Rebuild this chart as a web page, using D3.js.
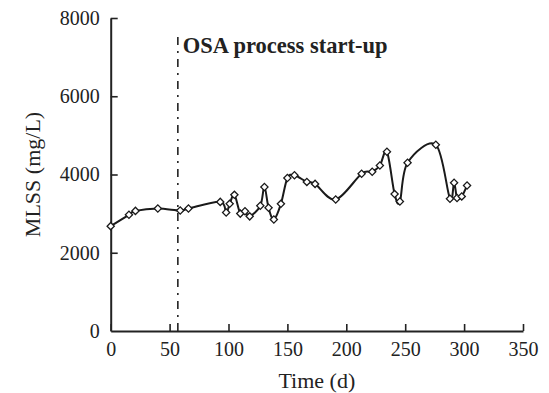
<!DOCTYPE html>
<html>
<head>
<meta charset="utf-8">
<script src="https://cdn.jsdelivr.net/npm/d3@7"></script>
<style>
  html, body { margin: 0; padding: 0; background: #fff; }
  svg { display: block; }
  text { font-family: "Liberation Serif", "Times New Roman", serif; fill: #222; }
</style>
</head>
<body>
<svg id="chart" width="549" height="393"></svg>
<script>
// Data
const days = [0, 15.5, 21, 40, 59, 66, 93, 98, 101, 105, 110, 114, 118, 127, 130.5, 134, 138.5, 144.5, 150, 156, 166.5, 173.5, 191, 213, 222, 228.5, 234.5, 241, 245.5, 252, 276, 288, 291.5, 294, 298, 302.5];
const mlss = [2680, 2970, 3070, 3130, 3080, 3130, 3300, 3030, 3250, 3480, 3000, 3060, 2930, 3200, 3680, 3150, 2850, 3250, 3910, 3980, 3810, 3760, 3360, 4020, 4070, 4230, 4580, 3500, 3310, 4300, 4760, 3380, 3790, 3400, 3440, 3720];
const xTicks = [0, 50, 100, 150, 200, 250, 300, 350];
const yTicks = [0, 2000, 4000, 6000, 8000];
const startupDay = [57];
const startupLabel = "OSA process start-up";
const xTitle = "Time (d)";
const yTitle = "MLSS (mg/L)";

const svg = d3.select("#chart");
const margin = { left: 110.7, right: 26, top: 18, bottom: 62 };
const W = 549, H = 393;

const x = d3.scaleLinear().domain([0, 350]).range([margin.left, W - margin.right]);
const y = d3.scaleLinear().domain([0, 8000]).range([H - margin.bottom, margin.top]);

const data = days.map((d, i) => ({ d, v: mlss[i] }));

// Axes
const fmt = d3.format("d");
const xAxis = d3.axisBottom(x).tickValues(xTicks).tickFormat(fmt).tickSizeInner(-7).tickSizeOuter(0).tickPadding(11);
const yAxis = d3.axisLeft(y).tickValues(yTicks).tickFormat(fmt).tickSizeInner(-7).tickSizeOuter(0).tickPadding(11);

const gx = svg.append("g").attr("transform", `translate(0,${y(0)})`).call(xAxis);
const gy = svg.append("g").attr("transform", `translate(${x(0)},0)`).call(yAxis);
[gx, gy].forEach(g => {
  g.attr("font-family", null).attr("font-size", null);
  g.selectAll("path.domain").attr("stroke", "#222").attr("stroke-width", 2);
  g.selectAll(".tick line").attr("stroke", "#222").attr("stroke-width", 1.6);
  g.selectAll("text").style("font-family", '"Liberation Serif", serif').style("font-size", "20px").attr("fill", "#222");
});
gy.selectAll(".tick").filter(d => d === 0).select("line").remove();

// Start-up line
svg.selectAll("line.startup").data(startupDay).enter().append("line")
  .attr("class", "startup")
  .attr("x1", d => x(d)).attr("x2", d => x(d))
  .attr("y1", y(0)).attr("y2", 35)
  .attr("stroke", "#222").attr("stroke-width", 1.6)
  .attr("stroke-dasharray", "8,6,2,6");

svg.append("text")
  .attr("x", x(startupDay[0]) + 5).attr("y", 53)
  .style("font-size", "22.5px").style("font-weight", "bold")
  .text(startupLabel);

// Line
const line = d3.line().x(p => x(p.d)).y(p => y(p.v)).curve(d3.curveCardinal.tension(0));
svg.append("path").datum(data)
  .attr("d", line)
  .attr("fill", "none").attr("stroke", "#1a1a1a").attr("stroke-width", 2);

// Markers
svg.selectAll("path.mk").data(data).enter().append("path")
  .attr("class", "mk")
  .attr("transform", p => `translate(${x(p.d)},${y(p.v)}) rotate(45)`)
  .attr("d", d3.symbol().type(d3.symbolSquare).size(26))
  .attr("fill", "#fff").attr("stroke", "#1a1a1a").attr("stroke-width", 1.3);

// Titles
svg.append("text")
  .attr("x", (x(0) + x(350)) / 2).attr("y", 388)
  .attr("text-anchor", "middle").style("font-size", "22px")
  .text(xTitle);

svg.append("text")
  .attr("transform", `translate(40,${(y(0) + y(8000)) / 2}) rotate(-90)`)
  .attr("text-anchor", "middle").style("font-size", "22px")
  .text(yTitle);
</script>
</body>
</html>
